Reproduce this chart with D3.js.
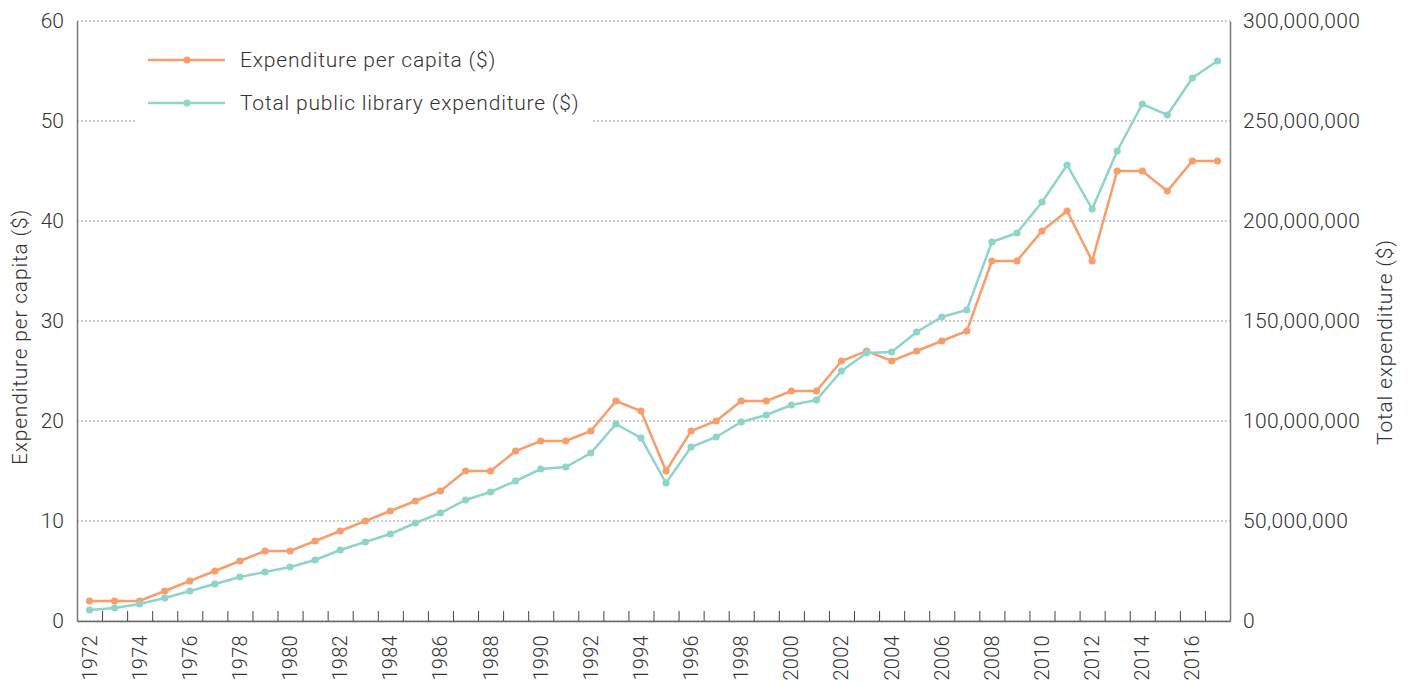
<!DOCTYPE html>
<html>
<head>
<meta charset="utf-8">
<script src="https://cdn.jsdelivr.net/npm/d3@7"></script>
<style>
  body { margin: 0; background: #fff; }
  text { font-family: Roboto, "Noto Sans", sans-serif; fill: #333; }
</style>
</head>
<body>
<svg id="chart" width="1413" height="683"></svg>
<script>
// library spending: per capita vs total, 1972-2017

var years = d3.range(1972, 2018);

var perCapita = [2, 2, 2, 3, 4, 5, 6, 7, 7, 8, 9, 10, 11, 12, 13, 15, 15, 17, 18, 18,
  19, 22, 21, 15, 19, 20, 22, 22, 23, 23, 26, 27, 26, 27, 28, 29, 36, 36, 39, 41,
  36, 45, 45, 43, 46, 46];

// total expenditure in millions of dollars
var totalMillions = [5.5, 6.5, 8.5, 11.5, 15, 18.5, 22, 24.5, 27, 30.5, 35.5, 39.5, 43.5, 49, 54, 60.5,
  64.5, 70, 76, 77, 84, 98.5, 91.5, 69, 87, 92, 99.5, 103, 108, 110.5, 125, 134,
  134.5, 144.5, 152, 155.5, 189.5, 194, 209.5, 228, 206, 235, 258.5, 253, 271.5, 280];

var leftTicks = [0, 10, 20, 30, 40, 50, 60];
var rightTicks = [0, 50e6, 100e6, 150e6, 200e6, 250e6, 300e6];
var labelYears = years.filter(function(y) { return y % 2 === 0; });

var seriesNames = ["Expenditure per capita ($)", "Total public library expenditure ($)"];
var colors = ["#f89d6b", "#8ed4ca"];

var svg = d3.select("#chart"),
    mLeft = 77, mRight = 1230, mTop = 21, mBottom = 621;

var xEdge = d3.scaleLinear().domain([1972, 2018]).range([mLeft, mRight]);
var x = function(yr) { return xEdge(yr + 0.5); };
var yL = d3.scaleLinear().domain([0, 60]).range([mBottom, mTop]);
var yR = d3.scaleLinear().domain([0, 300e6]).range([mBottom, mTop]);

// grid
svg.append("g")
  .selectAll("line")
  .data(leftTicks)
  .enter().append("line")
  .attr("x1", mLeft).attr("x2", mRight)
  .attr("y1", function(d) { return yL(d); })
  .attr("y2", function(d) { return yL(d); })
  .attr("stroke", "#9a9a9a")
  .attr("stroke-width", 1)
  .attr("stroke-dasharray", "2,2");

// left axis
var gL = svg.append("g").attr("transform", "translate(" + mLeft + ",0)")
  .call(d3.axisLeft(yL).tickValues(leftTicks).tickSize(0).tickPadding(13));
gL.select(".domain").attr("stroke", "#777").attr("stroke-width", 1.5);
gL.selectAll("text").style("font-size", "21px").style("font-weight", 300).attr("fill", "#333");

// right axis
var gR = svg.append("g").attr("transform", "translate(" + mRight + ",0)")
  .call(d3.axisRight(yR).tickValues(rightTicks).tickSize(0).tickPadding(13).tickFormat(d3.format(",")));
gR.select(".domain").attr("stroke", "#777").attr("stroke-width", 1.5);
gR.selectAll("text").style("font-size", "21px").style("font-weight", 300)
  .style("letter-spacing", "0.4px").attr("fill", "#333");

// bottom axis: ticks at year boundaries, labels at year centres
var gB = svg.append("g").attr("transform", "translate(0," + mBottom + ")")
  .call(d3.axisBottom(xEdge).tickValues(d3.range(1973, 2018)).tickSizeInner(-10).tickSizeOuter(0).tickFormat(""));
gB.select(".domain").attr("stroke", "#666").attr("stroke-width", 1.5);
gB.selectAll(".tick line").attr("stroke", "#444");

svg.append("g")
  .selectAll("text")
  .data(labelYears)
  .enter().append("text")
  .attr("transform", function(d) { return "translate(" + (x(d) + 7) + "," + (mBottom + 14) + ") rotate(-90)"; })
  .attr("text-anchor", "end")
  .style("font-size", "20px")
  .style("font-weight", 300)
  .style("letter-spacing", "0.3px")
  .text(function(d) { return d; });

// axis titles
svg.append("text")
  .attr("transform", "translate(27,337) rotate(-90)")
  .attr("text-anchor", "middle")
  .style("font-size", "21px").style("font-weight", 300).style("letter-spacing", "0.8px")
  .text("Expenditure per capita ($)");
svg.append("text")
  .attr("transform", "translate(1392,342) rotate(-90)")
  .attr("text-anchor", "middle")
  .style("font-size", "21px").style("font-weight", 300).style("letter-spacing", "0.8px")
  .text("Total expenditure ($)");

// lines
var data = [
  years.map(function(yr, i) { return [x(yr), yL(perCapita[i])]; }),
  years.map(function(yr, i) { return [x(yr), yR(totalMillions[i] * 1e6)]; })
];
var line = d3.line();

data.forEach(function(pts, k) {
  var g = svg.append("g");
  g.append("path")
    .attr("d", line(pts))
    .attr("fill", "none")
    .attr("stroke", colors[k])
    .attr("stroke-width", 2.5);
  g.selectAll("circle")
    .data(pts)
    .enter().append("circle")
    .attr("cx", function(d) { return d[0]; })
    .attr("cy", function(d) { return d[1]; })
    .attr("r", 3.6)
    .attr("fill", colors[k]);
});

// legend
var leg = svg.append("g");
leg.append("rect").attr("x", 135).attr("y", 38).attr("width", 457).attr("height", 88).attr("fill", "#fff");
seriesNames.forEach(function(name, k) {
  var yy = 60 + k * 43;
  leg.append("line").attr("x1", 148).attr("x2", 225).attr("y1", yy).attr("y2", yy)
    .attr("stroke", colors[k]).attr("stroke-width", 2.5);
  leg.append("circle").attr("cx", 187).attr("cy", yy).attr("r", 3.6).attr("fill", colors[k]);
  leg.append("text").attr("x", 240).attr("y", yy + 7)
    .style("font-size", "21px").style("font-weight", 300).style("letter-spacing", "0.8px")
    .text(name);
});
</script>
</body>
</html>
